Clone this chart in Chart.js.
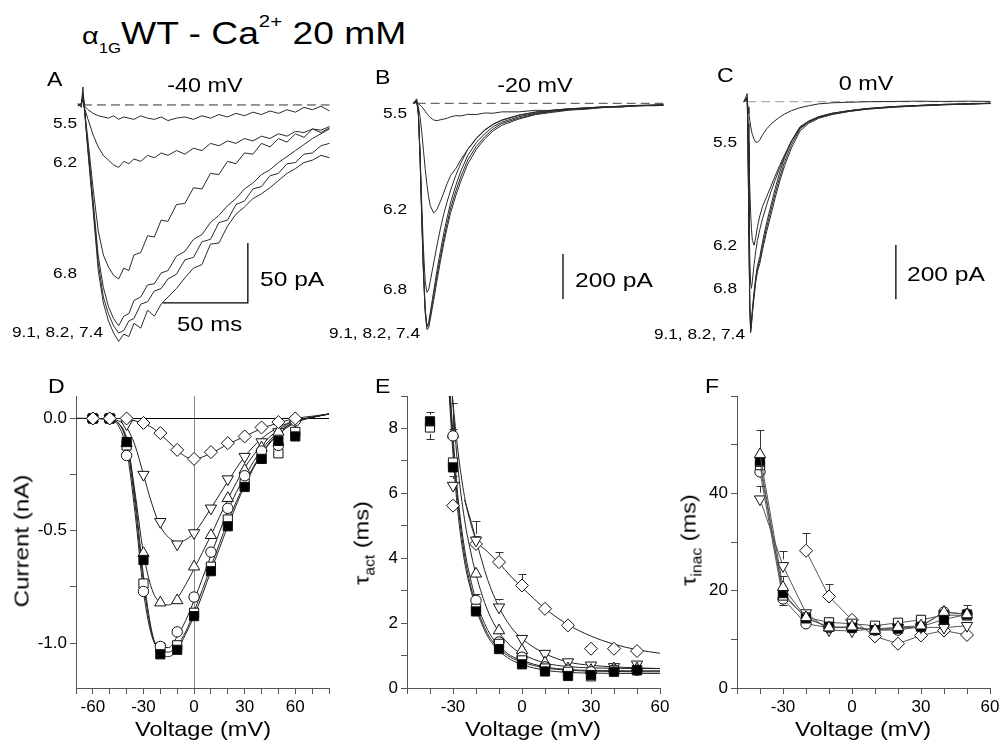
<!DOCTYPE html>
<html lang="en">
<head>
<meta charset="UTF-8">
<title>alpha1G WT - Ca2+ 20 mM</title>
<script src="https://cdn.jsdelivr.net/npm/chart.js"></script>
<style>
  html, body { margin: 0; padding: 0; background: #fff; }
  body { width: 1002px; height: 745px; position: relative; overflow: hidden;
         font-family: "Liberation Sans", Arial, sans-serif; color: #000; }
  canvas { position: absolute; }
  .t { position: absolute; white-space: nowrap; line-height: 1; }
  .t sub, .t sup { line-height: 0; }
</style>
</head>
<body>
<canvas id="chartA" width="280" height="270" style="left:60px;top:80px"></canvas>
<canvas id="chartB" width="270" height="270" style="left:400px;top:80px"></canvas>
<canvas id="chartC" width="267" height="270" style="left:735px;top:80px"></canvas>
<canvas id="chartD" width="340" height="365" style="left:0px;top:380px"></canvas>
<canvas id="chartE" width="345" height="365" style="left:330px;top:380px"></canvas>
<canvas id="chartF" width="350" height="365" style="left:660px;top:380px"></canvas>

<script>
// ---- A: traces at -40 mV (time ms, current pA) ----
const tA = [-3,-1,0,1,3,6,9,12,15,18,21,24,27,30,34,38,42,46,50,55,60,65,70,75,80,85,90,95,100,105,110,115,120,125,130,135,140,145];
const a55 = [1,-2,8,-1,-4,-7,-9,-10,-11,-9,-12,-10,-11,-12,-9,-11,-12,-10,-13,-11,-10,-12,-9,-11,-8,-10,-7,-9,-6,-8,-5,-7,-4,-6,-2,-4,-1,-5];
const a62 = [0,1,6,-3,-12,-25,-35,-42,-46,-50,-52,-47,-49,-45,-47,-42,-44,-40,-42,-38,-41,-36,-38,-32,-34,-30,-32,-28,-30,-26,-28,-24,-26,-22,-23,-20,-21,-18];
const a68 = [-1,1,5,-5,-30,-70,-105,-125,-135,-142,-145,-136,-138,-125,-123,-109,-110,-96,-97,-83,-82,-69,-70,-57,-58,-47,-49,-40,-41,-32,-35,-28,-31,-24,-27,-20,-23,-19];
const a91 = [0,-1,15,-6,-40,-88,-138,-165,-180,-190,-197,-191,-193,-182,-186,-171,-176,-166,-160,-153,-144,-136,-133,-116,-115,-101,-91,-85,-78,-74,-69,-63,-57,-53,-48,-46,-42,-44];
const a82 = [0,1,10,-5,-38,-84,-132,-160,-174,-184,-190,-188,-180,-178,-166,-164,-155,-153,-145,-141,-129,-127,-114,-112,-98,-96,-83,-80,-70,-68,-59,-57,-49,-48,-41,-40,-34,-32];
const a74 = [1,0,8,-4,-36,-80,-126,-152,-168,-178,-184,-176,-174,-163,-160,-150,-149,-140,-138,-126,-122,-112,-108,-98,-92,-84,-78,-70,-65,-58,-54,-48,-43,-38,-33,-28,-24,-20];
const barAx = [47, 97, 97];          // 50 ms / 50 pA scale bar
const barAy = [-165, -165, -115];

// ---- B: traces at -20 mV ----
const tB = [-2,0,1,2,3,4,5,6,7,8,10,12,14,16,18,20,23,26,30,35,40,45,50,60,70,80,90,100,110,120,130,140,145];
const b91 = [0,20,-50,-250,-520,-760,-930,-1005,-1000,-960,-875,-785,-700,-620,-550,-485,-410,-345,-270,-205,-158,-122,-98,-70,-50,-40,-30,-26,-18,-16,-10,-11,-8];
const b82 = [0,15,-45,-240,-510,-750,-920,-995,-985,-945,-855,-765,-680,-600,-530,-465,-390,-325,-252,-192,-148,-114,-90,-66,-47,-36,-29,-22,-19,-13,-12,-8,-9];
const b74 = [0,12,-40,-230,-500,-740,-910,-990,-975,-930,-835,-740,-655,-575,-505,-440,-365,-300,-232,-175,-135,-104,-84,-60,-44,-34,-26,-21,-16,-14,-10,-9,-7];
const b68 = [0,10,-45,-220,-450,-650,-790,-840,-830,-790,-710,-630,-555,-490,-435,-385,-320,-265,-205,-155,-118,-92,-74,-52,-38,-30,-24,-20,-16,-13,-11,-9,-8];
const b62 = [0,5,-15,-60,-130,-210,-290,-360,-415,-455,-488,-470,-435,-395,-355,-320,-290,-250,-205,-158,-120,-94,-76,-54,-40,-31,-25,-20,-16,-13,-10,-8,-8];
const b55 = [0,3,-3,-8,-15,-25,-35,-45,-55,-63,-74,-77,-73,-70,-66,-60,-55,-56,-49,-50,-43,-44,-38,-38,-31,-32,-24,-24,-16,-17,-9,-8,-5];
const barBx = [86, 86];              // 200 pA
const barBy = [-670, -870];

// ---- C: traces at 0 mV ----
const tC = [-2,0,0.5,1,1.5,2,2.5,3,4,5,6,7.4,9,11.4,14,16.3,19,22,26,31,36,42,50,60,70,86,100,115,130,143];
const c91 = [0,30,-200,-500,-760,-850,-815,-775,-710,-655,-615,-583,-530,-462,-398,-340,-280,-220,-158,-100,-76,-58,-45,-35,-27,-20,-15,-11,-9,-6];
const c82 = [0,18,-190,-490,-750,-845,-820,-780,-720,-665,-625,-595,-545,-478,-415,-357,-295,-235,-170,-108,-80,-61,-47,-36,-28,-20,-16,-12,-8,-7];
const c74 = [0,15,-180,-480,-740,-835,-805,-765,-700,-645,-603,-570,-515,-445,-380,-322,-262,-205,-145,-92,-72,-55,-42,-33,-25,-18,-14,-10,-8,-5];
const c68 = [0,15,-150,-380,-580,-670,-687,-660,-600,-550,-510,-470,-430,-380,-330,-290,-245,-200,-145,-95,-72,-56,-43,-33,-26,-18,-14,-10,-8,-6];
const c62 = [0,10,-80,-200,-320,-410,-470,-510,-528,-500,-460,-420,-385,-350,-310,-275,-235,-195,-145,-98,-74,-57,-44,-33,-26,-18,-14,-10,-8,-6];
const c55 = [0,5,-20,-45,-70,-90,-108,-120,-138,-148,-150,-140,-122,-100,-82,-70,-57,-45,-33,-22,-15,-8,-4,-2,0,1,2,1,2,1];
const barCx = [87.4, 87.4];          // 200 pA
const barCy = [-527, -727];

// ---- D: I-V (nA) ----
const vD = [-60,-50,-40,-30,-20,-10,0,10,20,30,40,50,60];
const dFilledSq = [0,0,-0.105,-0.63,-1.05,-1.03,-0.88,-0.68,-0.48,-0.305,-0.18,-0.1,-0.08];
const dOpenSq   = [0,0,-0.12,-0.735,-1.02,-1.01,-0.865,-0.66,-0.45,-0.29,-0.18,-0.155,-0.06];
const dCircle   = [0,0,-0.165,-0.77,-1.015,-0.95,-0.795,-0.595,-0.4,-0.255,-0.145,-0.12,-0.01];
const dUp       = [0,0,-0.11,-0.6,-0.82,-0.81,-0.66,-0.52,-0.355,-0.23,-0.13,-0.06,0];
const dDown     = [0,0,-0.025,-0.25,-0.46,-0.56,-0.51,-0.4,-0.27,-0.17,-0.105,-0.06,-0.01];
const dDiamond  = [0,0,0,-0.02,-0.065,-0.14,-0.18,-0.15,-0.11,-0.08,-0.04,-0.016,0];
const vFitD = [-70,-60,-50,-45,-40,-35,-30,-25,-20,-15,-10,-5,0,10,20,30,40,50,60,70,80];
const fitDFilled  = [0,0,-0.005,-0.02,-0.1,-0.35,-0.7,-0.95,-1.045,-1.06,-1.03,-0.96,-0.88,-0.68,-0.48,-0.3,-0.16,-0.07,-0.02,0.005,0.02];
const fitDOpen    = [0,0,-0.005,-0.02,-0.11,-0.38,-0.73,-0.96,-1.035,-1.04,-1.01,-0.95,-0.86,-0.66,-0.46,-0.29,-0.155,-0.065,-0.015,0.005,0.02];
const fitDCircle  = [0,0,-0.005,-0.03,-0.14,-0.42,-0.77,-0.97,-1.02,-1.02,-0.97,-0.9,-0.81,-0.61,-0.41,-0.26,-0.14,-0.06,-0.015,0.005,0.02];
const fitDUp      = [0,0,-0.005,-0.02,-0.09,-0.33,-0.6,-0.76,-0.82,-0.83,-0.8,-0.74,-0.67,-0.52,-0.36,-0.22,-0.12,-0.05,-0.01,0.005,0.02];
const fitDDown    = [0,0,-0.003,-0.01,-0.04,-0.12,-0.25,-0.38,-0.48,-0.53,-0.55,-0.54,-0.51,-0.4,-0.28,-0.17,-0.09,-0.04,-0.01,0.005,0.02];
const fitDDiamond = [0,0,0,0,-0.005,-0.01,-0.025,-0.04,-0.07,-0.105,-0.14,-0.17,-0.18,-0.155,-0.115,-0.08,-0.045,-0.02,0,0.01,0.02];

// ---- E: tau act (ms) ----
const vE = [-40,-30,-20,-10,0,10,20,30,40,50];
const eFilledSq = [8.22,6.8,2.36,1.2,0.73,0.51,0.37,0.4,0.5,0.55];
const eOpenSq   = [8.03,6.95,2.44,1.36,0.85,0.6,0.5,0.36,0.54,0.55];
const eCircle   = [null,7.77,2.7,1.42,0.95,0.65,0.55,0.5,0.55,0.55];
const eUp       = [null,7.83,3.52,1.77,1.16,0.78,0.6,0.55,0.6,0.6];
const eDown     = [null,6.24,4.55,2.49,1.52,1.06,0.8,0.7,0.65,0.73];
const eDiamond  = [null,5.62,4.44,3.88,3.16,2.44,1.93,1.21,1.21,1.14];
const eErrFilled  = [0.3,0.15,0.15,0.1,0.05,0.05,0.05,0.05,0.1,0.1];
const eErrOpen    = [-0.36,0.1,0.1,0.1,0.05,0.05,0.05,0.05,0.05,0.05];
const eErrCircle  = [null,0.2,0.2,0.15,0.1,0.05,0.05,0.05,0.05,0.05];
const eErrUp      = [null,0.95,0.2,0.15,0.1,0.1,0.1,0.1,0.1,0.1];
const eErrDown    = [null,0.3,0.6,0.25,0.15,0.15,0.1,0.15,0.1,0.15];
const eErrDiamond = [null,0.2,0.25,0.32,0.34,0.22,0.1,0.15,0.15,0.1];
const vFitE = [-33,-31,-30,-28,-25,-22,-20,-15,-10,-5,0,10,20,30,40,50,60];
const fitEFilled = [10.5,8.3,7.2,5.5,3.9,2.95,2.45,1.6,1.15,0.88,0.72,0.55,0.48,0.46,0.45,0.45,0.45];
const fitEOpen   = [10.8,8.6,7.5,5.8,4.1,3.05,2.55,1.68,1.22,0.95,0.8,0.62,0.55,0.52,0.51,0.5,0.5];
const fitECircle = [11,8.9,7.8,6.0,4.3,3.25,2.7,1.8,1.3,1.0,0.85,0.65,0.57,0.54,0.53,0.53,0.53];
const fitEUp     = [12,9.8,8.7,6.9,5.2,4.1,3.5,2.4,1.72,1.3,1.05,0.77,0.66,0.62,0.61,0.6,0.6];
const fitEDown   = [12,9.6,8.8,7.4,5.9,5.0,4.55,3.35,2.49,1.9,1.52,1.06,0.8,0.7,0.65,0.62,0.6];
const vFitEDia   = [-25,-22,-20,-15,-10,-5,0,10,20,30,40,50,60];
const fitEDiamond = [5.8,5.1,4.6,4.2,3.85,3.45,3.1,2.45,1.95,1.6,1.35,1.18,1.07];

// ---- F: tau inac (ms) ----
const vF = [-40,-30,-20,-10,0,10,20,30,40,50];
const fFilledSq = [46.5,19.5,14.3,12.6,12.4,11.9,12.2,12.6,14.1,15.1];
const fOpenSq   = [45.8,19,14.5,13.5,13.2,12.8,13.4,14,15,14.9];
const fCircle   = [44.4,18.3,13.2,12.4,12.4,11.9,11.9,12.6,15.6,15.2];
const fUp       = [48,20.7,14.5,12.4,12.6,11.9,12.5,12.8,15.6,15.1];
const fDown     = [38.8,25.1,15.4,11.9,11.7,12.2,12.4,12.5,12.4,12.8];
const fDiamond  = [null,null,28.2,18.8,14,10.6,9.1,10.8,11.8,10.9];
const fErrFilled  = [1,1,0.5,0.5,0.5,0.5,0.5,0.5,0.8,1];
const fErrOpen    = [1,1,0.5,0.5,0.5,0.5,0.5,0.5,0.8,0.8];
const fErrCircle  = [1.5,-1.3,0.5,0.5,0.5,0.5,0.5,0.5,1,1];
const fErrUp      = [5,2.3,1,0.5,0.5,0.5,0.5,0.5,1,2];
const fErrDown    = [2.8,3,1,0.5,0.5,0.5,0.5,0.5,0.5,0.5];
const fErrDiamond = [null,null,3.6,2.5,1.3,0.5,0.5,0.5,0.5,0.5];

Chart.defaults.font.family = '"Liberation Sans", Arial, sans-serif';
Chart.defaults.font.size = 17;
Chart.defaults.color = '#000';
Chart.defaults.animation = false;
Chart.defaults.events = [];
Chart.defaults.plugins.legend.display = false;
Chart.defaults.plugins.tooltip.enabled = false;

function pts(xs, ys, es) {
  return xs.map((x, i) => ({ x: x, y: ys[i], e: es ? es[i] : null })).filter(p => p.y != null);
}

// error bars with a cap; positive = up, negative = down
const errorBars = {
  id: 'errorBars',
  afterDatasetsDraw(chart) {
    const ctx = chart.ctx, ys = chart.scales.y, a = chart.chartArea;
    ctx.save();
    ctx.beginPath();
    ctx.rect(a.left, a.top, a.right - a.left, a.bottom - a.top);
    ctx.clip();
    ctx.strokeStyle = '#333';
    ctx.lineWidth = 1;
    chart.data.datasets.forEach((ds, i) => {
      const meta = chart.getDatasetMeta(i);
      ds.data.forEach((p, j) => {
        if (!p.e) return;
        const el = meta.data[j];
        const r = ds.pointRadius || 0;
        const yEnd = Math.round(ys.getPixelForValue(p.y + p.e)) + 0.5;
        const yStart = el.y + (p.e > 0 ? -r : r);
        if ((p.e > 0 && yEnd >= yStart) || (p.e < 0 && yEnd <= yStart)) return;
        const x = Math.round(el.x) + 0.5;
        ctx.beginPath();
        ctx.moveTo(x, yStart); ctx.lineTo(x, yEnd);
        ctx.moveTo(x - 4, yEnd); ctx.lineTo(x + 4, yEnd);
        ctx.stroke();
      });
    });
    ctx.restore();
  }
};

function traceChart(id, t, traces, range, barX, barY, dashColor) {
  const datasets = traces.map(tr => ({
    data: pts(t, tr), showLine: true, borderColor: '#2a2a2a', borderWidth: 1, pointRadius: 0
  }));
  datasets.push({
    data: [{ x: 0, y: 0 }, { x: t[t.length - 1], y: 0 }], showLine: true,
    borderColor: dashColor, borderDash: [9, 5], borderWidth: 1, pointRadius: 0
  });
  datasets.push({ data: pts(barX, barY), showLine: true, borderColor: '#000', borderWidth: 1.3, pointRadius: 0 });
  new Chart(document.getElementById(id), {
    type: 'scatter',
    data: { datasets: datasets },
    options: {
      responsive: false,
      layout: { padding: 0 },
      scales: {
        x: { type: 'linear', display: false, min: range[0], max: range[1] },
        y: { display: false, min: range[2], max: range[3] }
      }
    }
  });
}

traceChart('chartA', tA, [a55, a62, a68, a91, a82, a74], [-13.5, 151.2, -204.2, 20.8], barAx, barAy, '#333');
traceChart('chartB', tB, [b55, b62, b68, b91, b82, b74], [-9.8, 148.9, -1096.4, 103.6], barBx, barBy, '#444');
traceChart('chartC', tC, [c55, c62, c68, c91, c82, c74], [-7.2, 149.8, -913.7, 79.9], barCx, barCy, '#999');

const mk = {
  fsq: { pointStyle: 'rect', pointRadius: 6.5, pointBackgroundColor: '#000' },
  osq: { pointStyle: 'rect', pointRadius: 6.5, pointBackgroundColor: '#fff' },
  cir: { pointStyle: 'circle', pointRadius: 5.2, pointBackgroundColor: '#fff' },
  up:  { pointStyle: 'triangle', pointRadius: 6.5, pointBackgroundColor: '#fff' },
  dn:  { pointStyle: 'triangle', pointRotation: 180, pointRadius: 6.5, pointBackgroundColor: '#fff' },
  dia: { pointStyle: 'rectRot', pointRadius: 6.5, pointBackgroundColor: '#fff' }
};

function markers(style, data, lines) {
  return Object.assign({
    data: data, order: 0, pointBorderColor: '#111', pointBorderWidth: 1,
    showLine: !!lines, borderColor: '#555', borderWidth: 1
  }, mk[style]);
}
function fit(data) {
  return { data: data, order: 1, showLine: true, pointRadius: 0, borderColor: '#222', borderWidth: 1,
           cubicInterpolationMode: 'monotone' };
}

function bottomChart(id, datasets, o) {
  new Chart(document.getElementById(id), {
    type: 'scatter',
    data: { datasets: datasets },
    options: {
      responsive: false,
      layout: { padding: { top: o.padTop, right: o.padRight, left: 0, bottom: 0 } },
      scales: {
        x: {
          type: 'linear', min: o.x[0], max: o.x[1],
          afterFit: s => { s.height = o.xHeight; },
          border: { color: '#555', width: 1 },
          grid: {
            drawOnChartArea: !!o.zeroLines, tickLength: 6, tickColor: '#555',
            color: c => (c.tick && c.tick.value === 0) ? '#888' : 'rgba(0,0,0,0)'
          },
          ticks: { stepSize: 10, includeBounds: false, autoSkip: false, maxRotation: 0, padding: 3,
                   callback: v => (v % 30 === 0 ? String(v) : '') }
        },
        y: {
          min: o.y[0], max: o.y[1],
          afterFit: s => { s.width = o.yWidth; },
          border: { color: '#555', width: 1 },
          grid: {
            drawOnChartArea: !!o.zeroLines, tickLength: 6, tickColor: '#555',
            color: c => (c.tick && c.tick.value === 0) ? '#000' : 'rgba(0,0,0,0)'
          },
          ticks: { stepSize: o.yStep, includeBounds: false, autoSkip: false, padding: 3, callback: o.yLabel }
        }
      }
    },
    plugins: [errorBars]
  });
}

bottomChart('chartD', [
  markers('dia', pts(vD, dDiamond)),
  markers('fsq', pts(vD, dFilledSq)),
  markers('cir', pts(vD, dCircle)),
  markers('osq', pts(vD, dOpenSq)),
  markers('up', pts(vD, dUp)),
  markers('dn', pts(vD, dDown)),
  fit(pts(vFitD, fitDFilled)), fit(pts(vFitD, fitDOpen)), fit(pts(vFitD, fitDCircle)),
  fit(pts(vFitD, fitDUp)), fit(pts(vFitD, fitDDown)), fit(pts(vFitD, fitDDiamond))
], {
  x: [-70, 80], y: [-1.2, 0.1], yStep: 0.25, yWidth: 76, xHeight: 57, padTop: 16, padRight: 11, zeroLines: true,
  yLabel: v => (Math.abs(v * 2 - Math.round(v * 2)) < 1e-9 ? v.toFixed(1) : '')
});

bottomChart('chartE', [
  markers('fsq', pts(vE, eFilledSq, eErrFilled)),
  markers('osq', pts(vE, eOpenSq, eErrOpen)),
  markers('cir', pts(vE, eCircle, eErrCircle)),
  markers('up', pts(vE, eUp, eErrUp)),
  markers('dn', pts(vE, eDown, eErrDown)),
  markers('dia', pts(vE, eDiamond, eErrDiamond)),
  fit(pts(vFitE, fitEFilled)), fit(pts(vFitE, fitEOpen)), fit(pts(vFitE, fitECircle)),
  fit(pts(vFitE, fitEUp)), fit(pts(vFitE, fitEDown)), fit(pts(vFitEDia, fitEDiamond))
], {
  x: [-50, 60], y: [0, 9], yStep: 1, yWidth: 77, xHeight: 57, padTop: 16, padRight: 15,
  yLabel: v => (v % 2 === 0 ? String(v) : '')
});

bottomChart('chartF', [
  markers('up', pts(vF, fUp, fErrUp), true),
  markers('fsq', pts(vF, fFilledSq, fErrFilled), true),
  markers('osq', pts(vF, fOpenSq, fErrOpen), true),
  markers('cir', pts(vF, fCircle, fErrCircle), true),
  markers('dn', pts(vF, fDown, fErrDown), true),
  markers('dia', pts(vF, fDiamond, fErrDiamond), true)
], {
  x: [-50, 60], y: [0, 60], yStep: 10, yWidth: 77, xHeight: 57, padTop: 16, padRight: 20,
  yLabel: v => (v % 20 === 0 && v < 60 ? String(v) : '')
});

// ---- text ----
function lab(html, x, y, size, align, sx, rot) {
  const d = document.createElement('div');
  d.className = 't';
  d.innerHTML = html;
  d.style.left = x + 'px';
  d.style.top = y + 'px';
  d.style.fontSize = size + 'px';
  const s = sx || 1.15;
  if (rot) {
    d.style.transform = 'translate(-50%,-50%) rotate(-90deg) scaleX(' + s + ')';
  } else if (align === 'c') {
    d.style.transform = 'translate(-50%,-50%) scaleX(' + s + ')';
  } else if (align === 'r') {
    d.style.transformOrigin = 'right center';
    d.style.transform = 'translate(-100%,-50%) scaleX(' + s + ')';
  } else {
    d.style.transformOrigin = 'left center';
    d.style.transform = 'translate(0,-50%) scaleX(' + s + ')';
  }
  document.body.appendChild(d);
}

lab('<span style="font-size:24px">α</span><sub style="font-size:14px;vertical-align:-9px">1G</sub>WT - Ca<sup style="font-size:17px;vertical-align:17px">2+</sup> 20 mM', 82, 32.5, 31, 'l', 1.2);

lab('A', 47, 77.5, 21, 'l', 1.1);
lab('B', 375, 76, 21, 'l', 1.1);
lab('C', 717, 74, 21, 'l', 1.1);
lab('D', 48, 385, 21, 'l', 1.1);
lab('E', 375, 385, 21, 'l', 1.1);
lab('F', 705, 385, 21, 'l', 1.1);

lab('-40 mV', 205, 85, 20, 'c', 1.17);
lab('-20 mV', 535, 85, 20, 'c', 1.17);
lab('0 mV', 866, 83, 20, 'c', 1.17);

lab('5.5', 77, 122, 15, 'r');
lab('6.2', 77, 160.5, 15, 'r');
lab('6.8', 77, 272, 15, 'r');
lab('9.1, 8.2, 7.4', 103, 331, 15, 'r');
lab('5.5', 407, 112, 15, 'r');
lab('6.2', 407, 208, 15, 'r');
lab('6.8', 407, 288, 15, 'r');
lab('9.1, 8.2, 7.4', 420, 332, 15, 'r');
lab('5.5', 737, 141, 15, 'r');
lab('6.2', 737, 244, 15, 'r');
lab('6.8', 737, 287, 15, 'r');
lab('9.1, 8.2, 7.4', 745, 333, 15, 'r');

lab('50 pA', 260, 277.5, 21, 'l', 1.17);
lab('50 ms', 177, 323, 21, 'l', 1.14);
lab('200 pA', 575, 279, 21, 'l', 1.17);
lab('200 pA', 907, 273, 21, 'l', 1.17);

lab('Voltage (mV)', 203, 728, 21, 'c', 1.12);
lab('Voltage (mV)', 533, 728, 21, 'c', 1.12);
lab('Voltage (mV)', 863, 728, 21, 'c', 1.12);
lab('Current (nA)', 21, 541, 21, 'c', 1.15, true);
lab('τ<sub style="font-size:14px;vertical-align:-6px">act</sub> (ms)', 361, 543, 21, 'c', 1.12, true);
lab('τ<sub style="font-size:14px;vertical-align:-6px">inac</sub> (ms)', 688, 540, 21, 'c', 1.12, true);
</script>
</body>
</html>
